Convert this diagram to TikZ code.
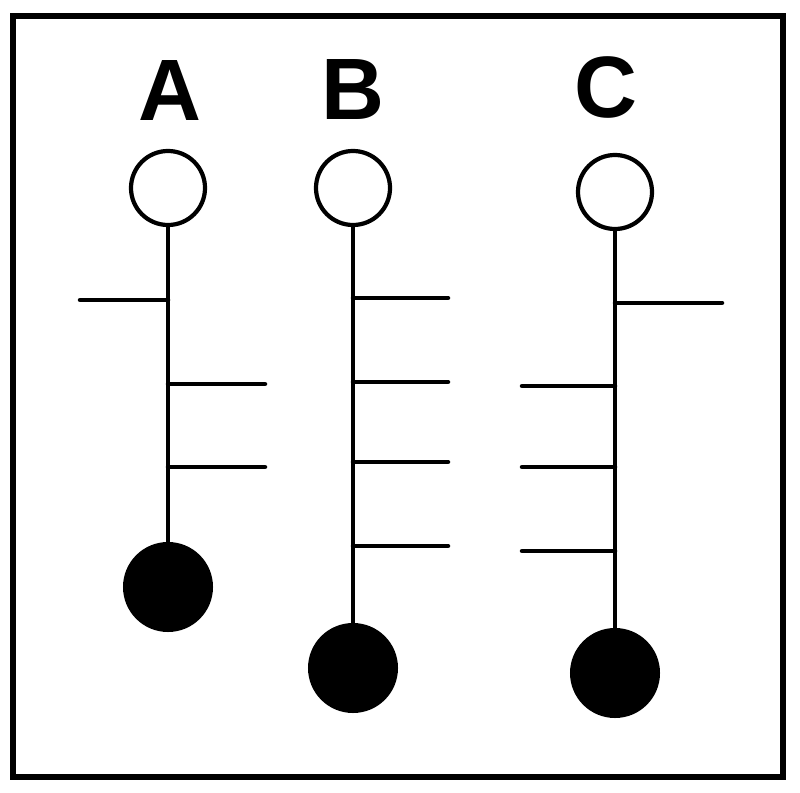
\documentclass[tikz,border=0pt]{standalone}
\usepackage{fontspec}
\setmainfont{Liberation Sans}
\begin{document}
\begin{tikzpicture}[x=0.025cm, y=-0.025cm,
    ring/.style={circle, draw, line width=3pt, inner sep=0pt, minimum size=1.85cm},
    ball/.style={circle, fill, inner sep=0pt, minimum size=2.25cm},
    letter/.style={anchor=base, inner sep=0pt, font=\fontsize{62}{62}\selectfont\bfseries},
    rod/.style={line width=3.2pt},
    tick/.style={line width=3.2pt, line cap=round}]

      \useasboundingbox (0, 0) rectangle (800, 793);
      \draw[line width=4.3pt] (13, 16) rectangle (783, 777);

      % letters
      \node[letter] (labA) at (170, 121) {A};
      \node[letter] (labB) at (353, 120) {B};
      \node[letter] (labC) at (606, 118) {C};

      % open and filled circles
      \node[ring] (topA) at (168, 188) {};
      \node[ring] (topB) at (353, 188) {};
      \node[ring] (topC) at (615, 192) {};
      \node[ball] (botA) at (168, 587) {};
      \node[ball] (botB) at (353, 668) {};
      \node[ball] (botC) at (615, 673) {};

      \draw[rod] (topA.south) -- (botA.north);
      \draw[rod] (topB.south) -- (botB.north);
      \draw[rod] (topC.south) -- (botC.north);

      % ticks
      \draw[tick] (168, 300) -- (80, 300);
      \foreach \y in {384, 467}
        \draw[tick] (168, \y) -- (265, \y);
      \foreach \y in {298, 382, 462, 546}
        \draw[tick] (353, \y) -- (448, \y);
      \draw[tick] (615, 303) -- (722, 303);
      \foreach \y in {386, 467, 551}
        \draw[tick] (615, \y) -- (522, \y);

\end{tikzpicture}
\end{document}
